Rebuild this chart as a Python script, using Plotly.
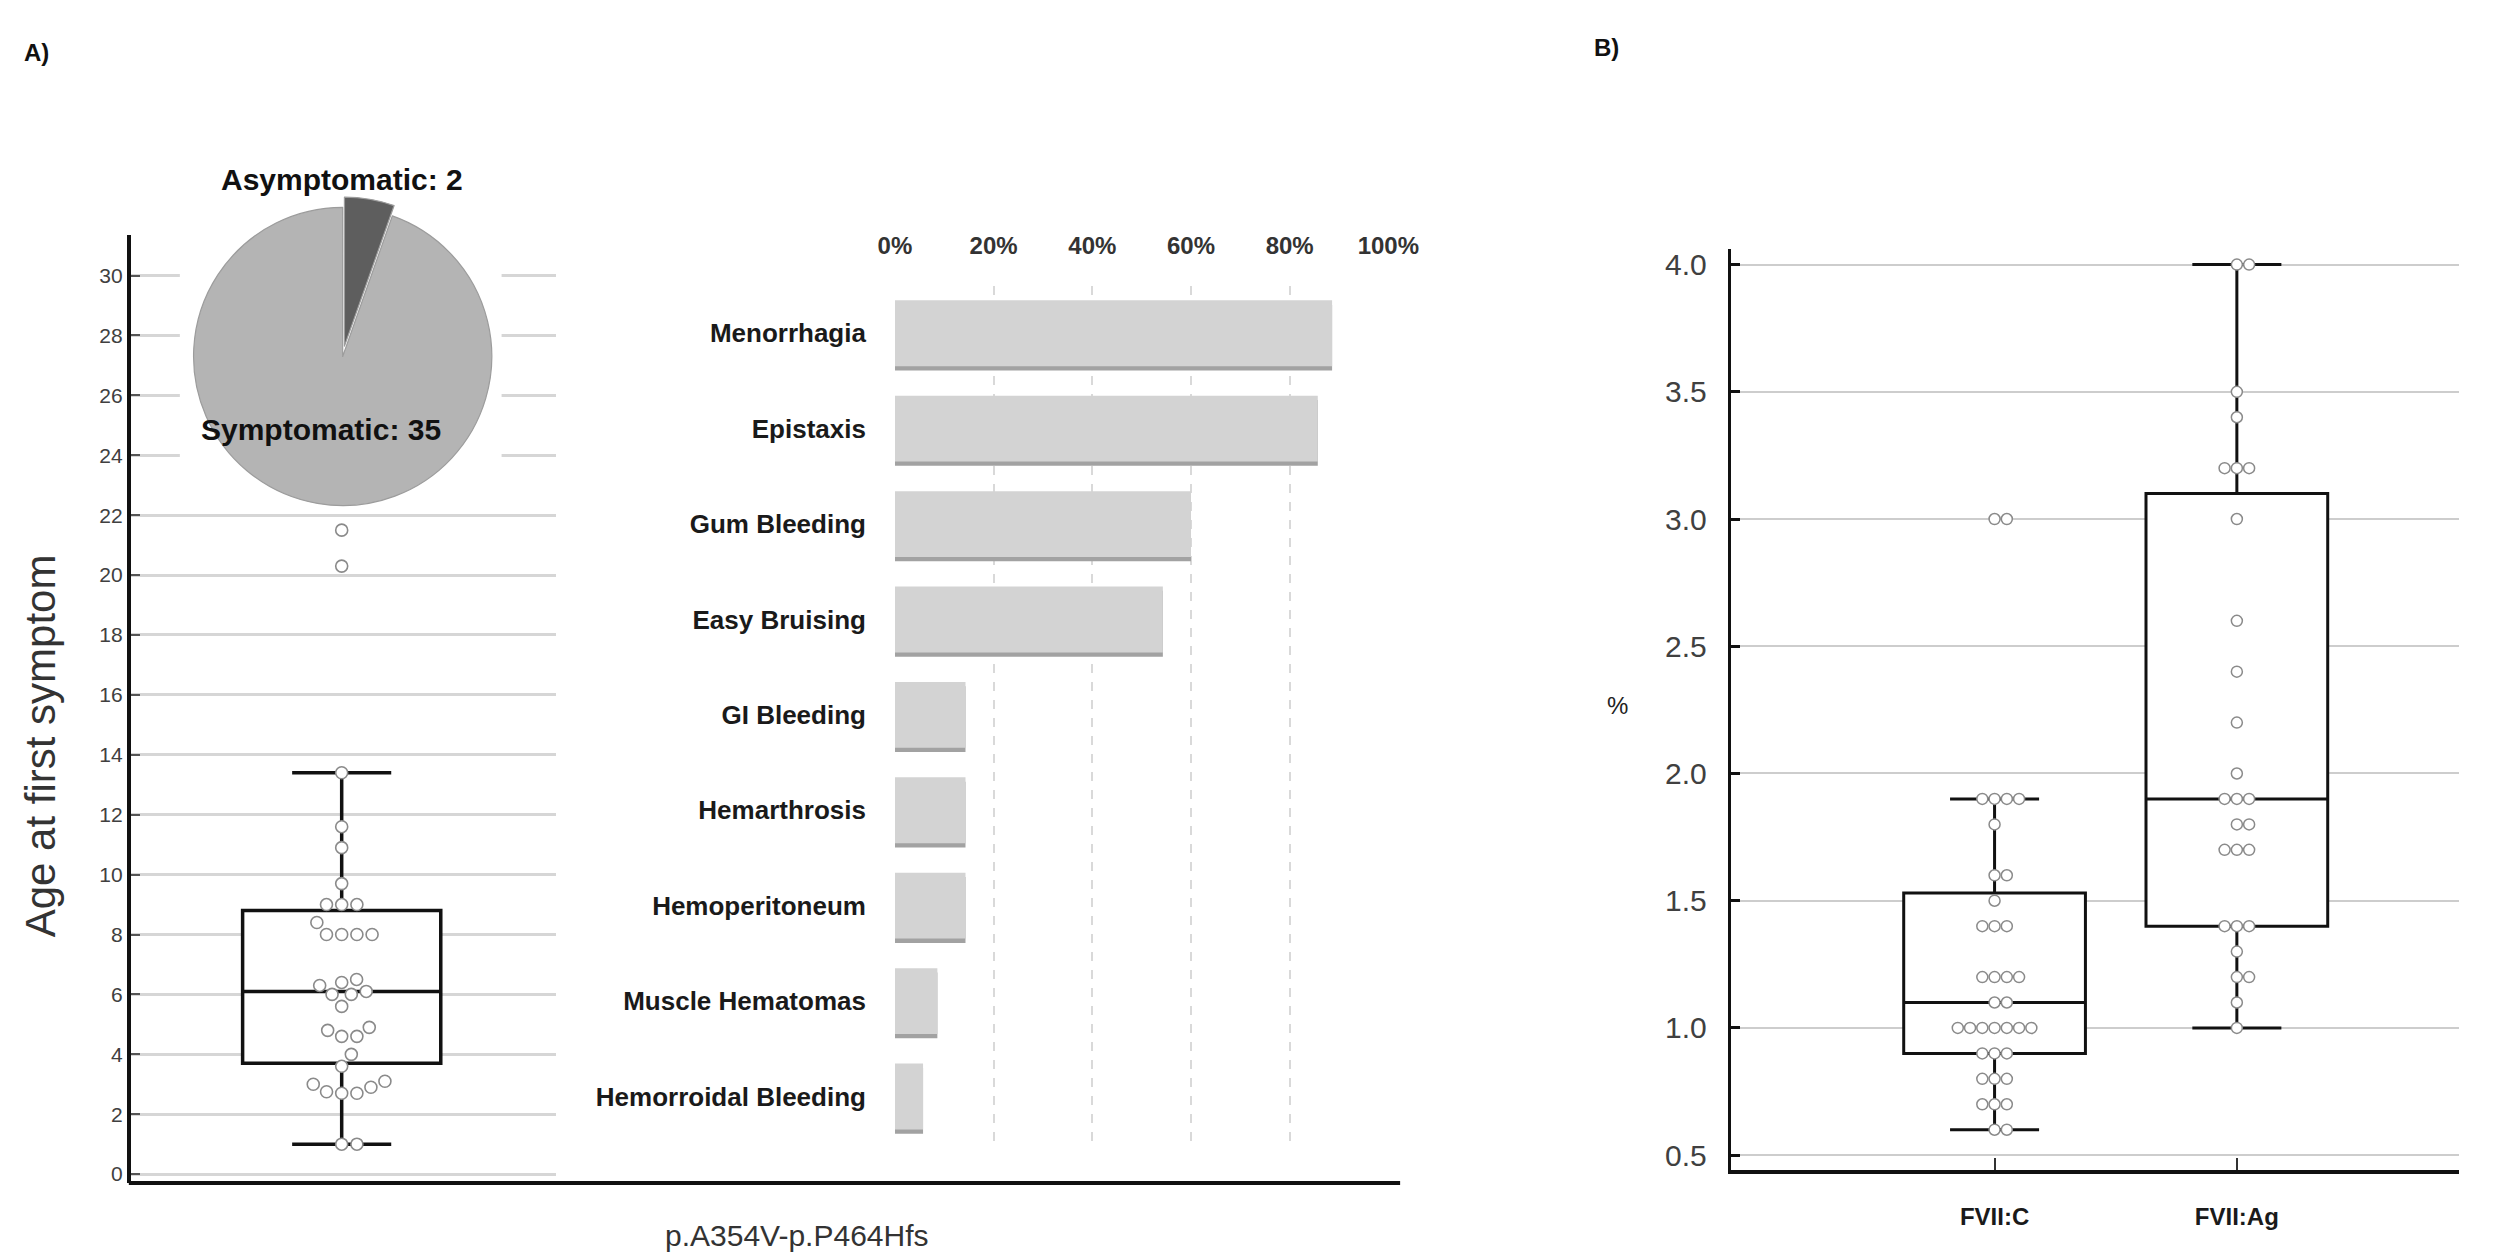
import plotly.graph_objects as go

# ---------------- data ----------------
age_first_symptom = [1.0, 1.0, 2.7, 2.7, 2.75, 2.9, 3.0, 3.1, 3.6, 4.0, 4.6, 4.6, 4.8, 4.9,
                     5.6, 6.0, 6.0, 6.1, 6.3, 6.4, 6.5, 8.0, 8.0, 8.0, 8.0, 8.4, 9.0, 9.0,
                     9.0, 9.7, 10.9, 11.6, 13.4, 20.3, 21.5]
age_box = dict(q1=3.7, median=6.1, q3=8.8, lowerfence=1.0, upperfence=13.4)

pie_labels = ["Asymptomatic", "Symptomatic"]
pie_values = [2, 35]

symptoms = ["Menorrhagia", "Epistaxis", "Gum Bleeding", "Easy Bruising", "GI Bleeding",
            "Hemarthrosis", "Hemoperitoneum", "Muscle Hematomas", "Hemorroidal Bleeding"]
symptom_pct = [88.6, 85.7, 60.0, 54.3, 14.3, 14.3, 14.3, 8.6, 5.7]

fvii_c = [0.6, 0.6, 0.7, 0.7, 0.7, 0.8, 0.8, 0.8, 0.9, 0.9, 0.9,
          1.0, 1.0, 1.0, 1.0, 1.0, 1.0, 1.0, 1.1, 1.1, 1.2, 1.2, 1.2, 1.2,
          1.4, 1.4, 1.4, 1.5, 1.6, 1.6, 1.8, 1.9, 1.9, 1.9, 1.9, 3.0, 3.0]
fvii_c_box = dict(q1=0.9, median=1.1, q3=1.53, lowerfence=0.6, upperfence=1.9)
fvii_ag = [1.0, 1.1, 1.2, 1.2, 1.3, 1.4, 1.4, 1.4, 1.7, 1.7, 1.7, 1.8, 1.8, 1.9, 1.9, 1.9,
           2.0, 2.2, 2.4, 2.6, 3.0, 3.2, 3.2, 3.2, 3.4, 3.5, 4.0, 4.0]
fvii_ag_box = dict(q1=1.4, median=1.9, q3=3.1, lowerfence=1.0, upperfence=4.0)
fvii_labels = ["FVII:C", "FVII:Ag"]

age_ticks = list(range(0, 31, 2))
pct_ticks = [0, 20, 40, 60, 80, 100]
pct_ticklabels = ["0%", "20%", "40%", "60%", "80%", "100%"]
fvii_ticks = [0.5, 1.0, 1.5, 2.0, 2.5, 3.0, 3.5, 4.0]

# ---------------- layout helpers ----------------
W, H = 2518, 1260
def fx(px):
    return px / W
def fy(py):
    return 1 - py / H

FONT = "Liberation Sans, Arial, sans-serif"
NARROW = "Liberation Sans Narrow, Arial Narrow, Liberation Sans, sans-serif"
TXT = "#404040"

def swarm(values, px_per_unit_y, diam):
    """Beeswarm offsets (in pixels) so that circles do not overlap."""
    placed = []
    offs = [0.0] * len(values)
    order = sorted(range(len(values)), key=lambda i: values[i])
    for i in order:
        y = values[i] * px_per_unit_y
        cands = [0.0]
        for (px, py) in placed:
            dy = abs(py - y)
            if dy < diam:
                dx = (diam * diam - dy * dy) ** 0.5
                cands += [px + dx, px - dx]
        cands.sort(key=abs)
        chosen = 0.0
        for c in cands:
            if all((c - px) ** 2 + (y - py) ** 2 >= diam * diam - 1e-6 for px, py in placed):
                chosen = c
                break
        placed.append((chosen, y))
        offs[i] = chosen
    return offs

fig = go.Figure()

# ---------- Left: age box plot ----------
L_AXIS_X, L_GRID_END, L_TOP, L_BOT = 116, 549, 235, 1185
L_CENTER, L_XSCALE = 331, 202.0
L_ZERO, L_YSCALE = 1176, 30.0

fig.add_trace(go.Box(
    x=[0], q1=[age_box["q1"]], median=[age_box["median"]], q3=[age_box["q3"]],
    lowerfence=[age_box["lowerfence"]], upperfence=[age_box["upperfence"]],
    boxpoints=False, width=1.0, whiskerwidth=0.5, fillcolor="white",
    line=dict(color="#111111", width=3.5), xaxis="x", yaxis="y",
    hoverinfo="skip", showlegend=False))

age_off = [o / L_XSCALE for o in swarm(age_first_symptom, L_YSCALE, 15.5)]
fig.add_trace(go.Scatter(
    x=age_off, y=age_first_symptom, mode="markers", xaxis="x", yaxis="y",
    marker=dict(symbol="circle", size=12, color="white",
                line=dict(color="#8a8a8a", width=1.6)),
    hoverinfo="y", showlegend=False))

# ---------- Pie ----------
PIE_CX, PIE_CY, PIE_R, PULL = 332, 357, 152, 0.07
half = PIE_R * (1 + PULL)
fig.add_trace(go.Pie(
    labels=pie_labels, values=pie_values, sort=False, direction="clockwise",
    rotation=0, pull=[PULL, 0], textinfo="none", hoverinfo="label+value",
    marker=dict(colors=["#5e5e5e", "#b4b4b4"], line=dict(color="#9c9c9c", width=1.2)),
    domain=dict(x=[fx(PIE_CX - half), fx(PIE_CX + half)],
                y=[fy(PIE_CY + half), fy(PIE_CY - half)]),
    showlegend=False))

# ---------- Bar chart ----------
fig.add_trace(go.Bar(
    x=symptom_pct, y=symptoms, orientation="h", xaxis="x2", yaxis="y2",
    width=0.69, offset=-0.345 + 0.045, marker=dict(color="#a2a2a2", line=dict(width=0)),
    hoverinfo="skip", showlegend=False))
fig.add_trace(go.Bar(
    x=symptom_pct, y=symptoms, orientation="h", xaxis="x2", yaxis="y2",
    width=0.69, offset=-0.345, marker=dict(color="#d3d3d3", line=dict(width=0)),
    hoverinfo="x+y", showlegend=False))

# ---------- Right: FVII box plots ----------
R_X0, R_X1, R_TOP, R_BOT = 1747, 2489, 249, 1172
R_C, R_XSCALE = 2016, 247.0
R_Y4, R_YSCALE = 265, 254.86

for pos, vals, st in [(0, fvii_c, fvii_c_box), (1, fvii_ag, fvii_ag_box)]:
    fig.add_trace(go.Box(
        x=[pos], q1=[st["q1"]], median=[st["median"]], q3=[st["q3"]],
        lowerfence=[st["lowerfence"]], upperfence=[st["upperfence"]],
        boxpoints=False, width=0.75, whiskerwidth=0.49, fillcolor="white",
        line=dict(color="#111111", width=3), xaxis="x3", yaxis="y3",
        hoverinfo="skip", showlegend=False))
    offs = swarm(vals, R_YSCALE, 12.5)
    fig.add_trace(go.Scatter(
        x=[pos + o / R_XSCALE for o in offs], y=vals, mode="markers",
        xaxis="x3", yaxis="y3",
        marker=dict(symbol="circle", size=11, color="white",
                    line=dict(color="#8a8a8a", width=1.5)),
        hoverinfo="y", showlegend=False))

# ---------- axes ----------
fig.update_layout(
    width=W, height=H, margin=dict(l=0, r=0, t=0, b=0),
    paper_bgcolor="white", plot_bgcolor="rgba(0,0,0,0)", showlegend=False,
    barmode="overlay",
    xaxis=dict(domain=[fx(L_AXIS_X), fx(L_GRID_END)],
               range=[(L_AXIS_X - L_CENTER) / L_XSCALE, (L_GRID_END - L_CENTER) / L_XSCALE],
               showgrid=False, zeroline=False, showline=False, showticklabels=False,
               ticks="", fixedrange=True),
    yaxis=dict(domain=[fy(L_BOT), fy(L_TOP)], anchor="x",
               range=[(L_ZERO - L_BOT) / L_YSCALE, (L_ZERO - L_TOP) / L_YSCALE],
               tickvals=age_ticks, showgrid=True, gridcolor="#d6d6d6", gridwidth=2.5,
               zeroline=False, showline=True, linecolor="#111111", linewidth=4,
               ticks="inside", ticklen=9, tickwidth=2, tickcolor="#555555",
               ticklabelstandoff=0,
               tickfont=dict(family=FONT, size=21, color=TXT)),
    xaxis2=dict(domain=[fx(895), fx(1398)], range=[0, 100], side="top", anchor="y2",
                tickvals=pct_ticks, ticktext=pct_ticklabels,
                showgrid=True, gridcolor="#d9d9d9", gridwidth=1.5, griddash="dash",
                zeroline=False, showline=False, ticks="", ticklabelstandoff=26,
                tickfont=dict(family=FONT, size=24, color="#333333", weight="bold")),
    yaxis2=dict(domain=[fy(1146), fy(286)], type="category", range=[8.5, -0.5],
                anchor="x2", showgrid=False, zeroline=False, showline=False,
                ticks="", ticklabelstandoff=28,
                tickfont=dict(family=FONT, size=26, color="#1a1a1a", weight="bold")),
    xaxis3=dict(domain=[fx(R_X0), fx(R_X1)], anchor="y3",
                range=[(R_X0 - R_C) / R_XSCALE, (R_X1 - R_C) / R_XSCALE],
                tickvals=[0, 1], ticktext=fvii_labels, showgrid=False, zeroline=False,
                showline=True, linecolor="#111111", linewidth=4,
                ticks="inside", ticklen=12, tickwidth=2, tickcolor="#333333",
                ticklabelstandoff=22,
                tickfont=dict(family=FONT, size=24, color="#1a1a1a", weight="bold")),
    yaxis3=dict(domain=[fy(R_BOT), fy(R_TOP)], anchor="x3",
                range=[4.0 - (R_BOT - R_Y4) / R_YSCALE, 4.0 + (R_Y4 - R_TOP) / R_YSCALE],
                tickvals=fvii_ticks, tickformat=".1f",
                showgrid=True, gridcolor="#cdcdcd", gridwidth=2, zeroline=False,
                showline=True, linecolor="#111111", linewidth=3,
                ticks="inside", ticklen=9, tickwidth=3, tickcolor="#111111",
                ticklabelstandoff=15,
                tickfont=dict(family=NARROW, size=30, color=TXT)),
)

# white background behind the pie (hides the grid lines), bottom axis line
fig.add_shape(type="rect", xref="x", yref="y", layer="between",
              x0=(PIE_CX - 166 - L_CENTER) / L_XSCALE, x1=(PIE_CX + 162 - L_CENTER) / L_XSCALE,
              y0=(L_ZERO - 508) / L_YSCALE, y1=(L_ZERO - 190) / L_YSCALE,
              line=dict(width=0), fillcolor="white")
fig.add_shape(type="line", xref="paper", yref="paper",
              x0=fx(L_AXIS_X - 2), x1=fx(1410), y0=fy(L_BOT), y1=fy(L_BOT),
              line=dict(color="#111111", width=4))

def ann(text, x, y, size, bold=False, color="#111111", angle=0, family=FONT):
    fig.add_annotation(text=text, x=fx(x), y=fy(y), xref="paper", yref="paper",
                       showarrow=False, xanchor="center", yanchor="middle",
                       textangle=angle,
                       font=dict(family=family, size=size, color=color,
                                 weight="bold" if bold else "normal"))

ann("A)", 20, 53, 24, bold=True)
ann("B)", 1620, 48, 24, bold=True)
ann(f"{pie_labels[0]}: {pie_values[0]}", 331, 180, 30, bold=True)
ann(f"{pie_labels[1]}: {pie_values[1]}", 310, 430, 30, bold=True)
ann("p.A354V-p.P464Hfs", 795, 1237, 30, color="#333333")
ann("Age at first symptom", 24, 747, 42, color="#333333", angle=-90)
ann("%", 1632, 707, 24, color="#222222")

fig.write_html("out.html", config={"displayModeBar": False},
               post_script="document.body.style.margin='0';")
